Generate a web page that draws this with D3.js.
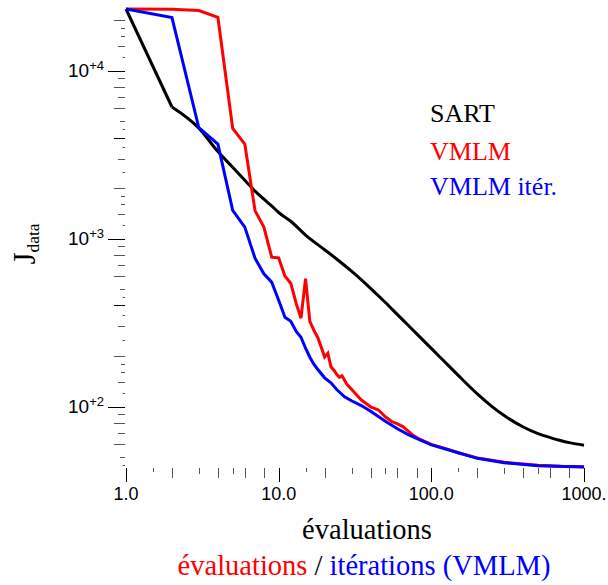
<!DOCTYPE html>
<html><head><meta charset="utf-8">
<script src="https://cdn.jsdelivr.net/npm/d3@7"></script>
<style>
body{margin:0;background:#fff}svg{display:block}
</style>
</head><body>
<svg id="c" width="608" height="585"></svg>
<script>
// ---- data ----
const sartEvals = [1,2,3,4,5,6,7,8,9,10,12,15,20,25,30,40,50,60,70,80,100,120,150,200,250,300,400,500,600,700,800,1000];
const sartJ = [23300,6080,4550,3300,2660,2225,1920,1718,1565,1431,1269,1051,859,734,640,506,417,353,307,272,222,188,153.4,119,100,88.4,75.6,69,65.4,62.8,61.0,58.9];

const vmlmEvals = [1,2,3,4,5,6,7,8,9,10,11,12,13,14,15,16,17,18,19,20,21,22,23,24,25,26,28,30,33,35,40,45,50,55,60,65,70,76,85,100,120,150,200,300,500,700,1000];
const vmlmJ = [23300,23200,22800,20750,4536,3658,1469,1171,776,767,598,543,414,336,578,322,285,259,226,197.5,208,172.7,164.6,155.8,149.5,152.6,135.8,126.8,115.2,109,99.7,95.5,87,81.5,78.8,76,72,67.4,63.5,59.6,56.8,53.1,49.5,46.6,44.7,44.1,43.8];

const iterEvals = [1,2,3,4,5,6,7,8,9,10,11,12,13,14,15,16,17,18,20,22,24,27,30,35,40,50,60,70,80,100,150,200,300,500,1000];
const iterJ = [23300,20700,4574,3658,1473,1171,765,618,551,430,340,322,281,259,222.6,196.7,178.7,166.9,148.4,138.6,126.3,114.4,108.3,101.1,93.8,81.7,73.8,68.4,64.7,59.2,53.1,49.2,46.3,44.5,43.7];

const seriesNames = ["SART","VMLM","VMLM itér."];
const seriesColors = ["#000000","#ff0000","#0000ff"];

const xTickValues = [1,1.5,2,3,4,5,6,8,10,15,20,30,40,50,60,80,100,150,200,300,400,500,600,800,1000];
const xTickLabels = [[1,"1.0"],[10,"10.0"],[100,"100.0"],[1000,"1000."]];
const yTickValues = [45,50,60,70,80,90,
  100,120,140,160,180,200,250,300,350,400,450,500,600,700,800,900,
  1000,1200,1400,1600,1800,2000,2500,3000,3500,4000,4500,5000,6000,7000,8000,9000,
  10000,12000,14000,16000,18000,20000];
const yTickLabels = [[100,"+2"],[1000,"+3"],[10000,"+4"]];

const xTitle = "évaluations";
const yTitleMain = "J";
const yTitleSub = "data";

// ---- drawing ----
const SANS = "'Liberation Sans', Arial, sans-serif";
const SERIF = "'Liberation Serif', 'Times New Roman', serif";
const svg = d3.select("#c");
const x = d3.scaleLog().domain([1,1000]).range([126,584]);
const y = d3.scaleLog().domain([100,10000]).range([406.6,70.7]);

function mant(v){ const e = Math.floor(Math.log10(v)+1e-9); return Math.round(v/Math.pow(10,e)*10)/10; }

// y ticks
function yLen(v){
  const m = mant(v);
  if (m===1) return 17;
  if ([2,4,6,8].includes(m)) return 11;
  if ([3,7,9,1.4].includes(m)) return 7;
  if (m===5) return 5;
  if ([1.6,1.8].includes(m)) return 4;
  return 2.5;
}
svg.append("g").selectAll("line").data(yTickValues).join("line")
  .attr("x1", 125).attr("x2", d => 125 - yLen(d))
  .attr("y1", d => Math.round(y(d))+0.5).attr("y2", d => Math.round(y(d))+0.5)
  .attr("stroke", d => (mant(d)===1||mant(d)===4) ? "#000" : "#555").attr("stroke-width", 1);

// x ticks
function xLen(v){
  const m = mant(v);
  if (m===1) return 14;
  if ([2,4,6,8].includes(m)) return 10;
  if ([3,5].includes(m)) return 6;
  return 4;
}
svg.append("g").selectAll("line").data(xTickValues).join("line")
  .attr("x1", d => Math.round(x(d))+0.5).attr("x2", d => Math.round(x(d))+0.5)
  .attr("y1", 468).attr("y2", d => 468 + xLen(d))
  .attr("stroke", d => mant(d)===1 ? "#000" : "#555").attr("stroke-width", 1);

// tick labels
svg.append("g").selectAll("text").data(xTickLabels).join("text")
  .style("font-family", SANS).style("font-size","18px")
  .attr("x", d => x(d[0])).attr("y", 500).attr("text-anchor","middle")
  .text(d => d[1]);

const yl = svg.append("g").selectAll("text").data(yTickLabels).join("text")
  .style("font-family", SANS)
  .attr("x", 104).attr("y", d => y(d[0]) + 6.6).attr("text-anchor","end");
yl.append("tspan").style("font-size","19px").text("10");
yl.append("tspan").style("font-size","13px").attr("dy",-7).text(d => d[1]);

// lines
const lin = d3.line().x(d => x(d[0])).y(d => y(d[1]));
const smooth = d3.line().x(d => x(d[0])).y(d => y(d[1])).curve(d3.curveMonotoneX);
const sart = d3.zip(sartEvals, sartJ);
const g = svg.append("g").attr("fill","none").attr("stroke-width",3);
g.append("path").attr("d", lin(sart.slice(0,2))).attr("stroke", seriesColors[0]);
g.append("path").attr("d", smooth(sart.slice(1))).attr("stroke", seriesColors[0]);
g.append("path").attr("d", lin(d3.zip(vmlmEvals, vmlmJ))).attr("stroke", seriesColors[1]);
g.append("path").attr("d", lin(d3.zip(iterEvals, iterJ))).attr("stroke", seriesColors[2]);

// legend
svg.append("g").selectAll("text").data(seriesNames).join("text")
  .style("font-family", SERIF).style("font-size","26px")
  .attr("x", 430).attr("y", (d,i) => [122,159.5,195][i])
  .attr("fill", (d,i) => seriesColors[i]).text(d => d);

// axis titles
svg.append("text").style("font-family", SERIF).style("font-size","28.5px")
  .attr("x", 367).attr("y", 539).attr("text-anchor","middle")
  .text(xTitle);

const sub = svg.append("text").style("font-family", SERIF).style("font-size","28.5px")
  .attr("x", 364).attr("y", 575).attr("text-anchor","middle");
sub.append("tspan").attr("fill","#ff0000").text("évaluations");
sub.append("tspan").attr("fill","#000").text(" / ");
sub.append("tspan").attr("fill","#0000ff").text("itérations (VMLM)");

const yt = svg.append("text").style("font-family", SERIF)
  .attr("transform","translate(35,244) rotate(-90)")
  .attr("text-anchor","middle");
yt.append("tspan").style("font-size","31px").text(yTitleMain);
yt.append("tspan").style("font-size","17.5px").attr("dy",4).text(yTitleSub);
</script>
</body></html>
